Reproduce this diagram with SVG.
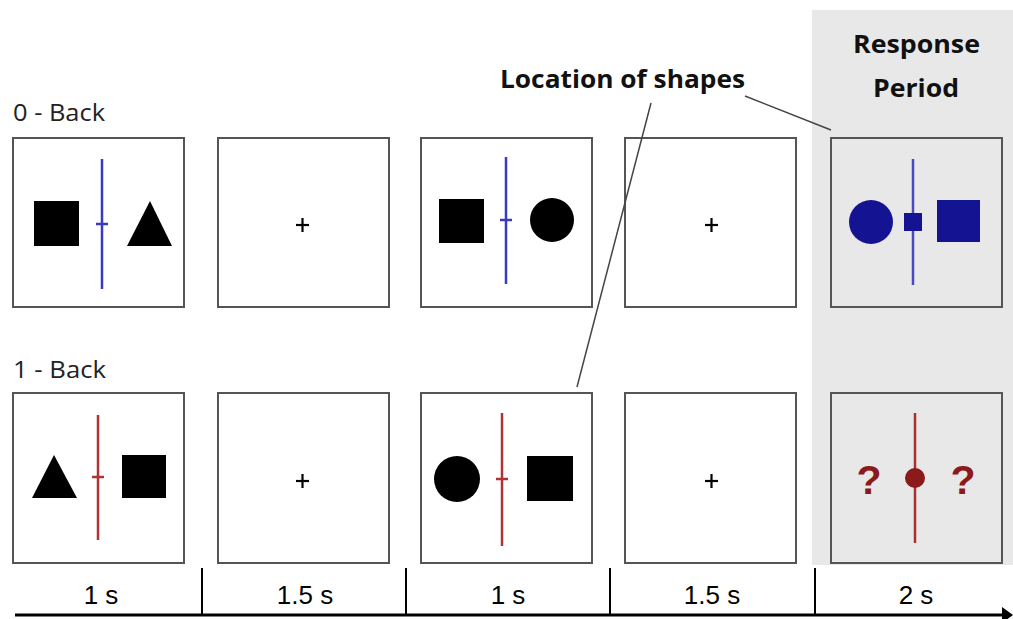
<svg xmlns="http://www.w3.org/2000/svg" width="1013" height="619" viewBox="0 0 1013 619">
<defs>
<style>
.panel{fill:#fff;stroke:#555;stroke-width:2}
.rp{fill:#e8e8e8;stroke:#555;stroke-width:2}
.blk{fill:#000}
.bl{stroke:#3a3ac0;stroke-width:2.5}
.rd{stroke:#b03232;stroke-width:2.5}
.plus{stroke:#000;stroke-width:2.2}
.lbl{font-family:"Open Sans","Liberation Sans",sans-serif;font-size:24px;fill:#222}
.hdr{font-family:"Open Sans","Liberation Sans",sans-serif;font-size:25px;font-weight:bold;fill:#111}
.tm{font-family:"Liberation Sans",Arial,sans-serif;font-size:26px;fill:#000;text-anchor:middle}
.lead{stroke:#444;stroke-width:1.5;fill:none}
.q{font-family:"Liberation Sans",Arial,sans-serif;font-size:41px;font-weight:bold;fill:#8b1a1a;text-anchor:middle}
</style>
</defs>
<rect width="1013" height="619" fill="#fff"/>
<rect x="812" y="10" width="201" height="555" fill="#e8e8e8"/>

<text class="lbl" x="13" y="121" textLength="92" lengthAdjust="spacingAndGlyphs">0 - Back</text>
<text class="lbl" x="13" y="378" textLength="93" lengthAdjust="spacingAndGlyphs">1 - Back</text>
<text class="hdr" x="500" y="88" textLength="245" lengthAdjust="spacingAndGlyphs">Location of shapes</text>
<text class="hdr" x="853" y="53" textLength="127" lengthAdjust="spacingAndGlyphs">Response</text>
<text class="hdr" x="873" y="97" textLength="86" lengthAdjust="spacingAndGlyphs">Period</text>

<!-- top row -->
<g id="t1">
<rect class="panel" x="13" y="138" width="171" height="169"/>
<line class="bl" x1="102" y1="159" x2="102" y2="289"/>
<line class="bl" x1="96" y1="224" x2="108" y2="224"/>
<rect class="blk" x="34" y="201" width="45" height="45"/>
<polygon class="blk" points="150,201 172,246 127,246"/>
</g>
<g id="t2">
<rect class="panel" x="218" y="138" width="171" height="169"/>
<line class="plus" x1="296" y1="225" x2="309" y2="225"/>
<line class="plus" x1="302.5" y1="218" x2="302.5" y2="232"/>
</g>
<g id="t3">
<rect class="panel" x="421" y="138" width="171" height="169"/>
<line class="bl" x1="506" y1="157" x2="506" y2="284"/>
<line class="bl" x1="500" y1="220" x2="512" y2="220"/>
<rect class="blk" x="439" y="199" width="45" height="44"/>
<circle class="blk" cx="552" cy="220" r="22"/>
</g>
<g id="t4">
<rect class="panel" x="625" y="138" width="171" height="169"/>
<line class="plus" x1="705" y1="225" x2="718" y2="225"/>
<line class="plus" x1="711.5" y1="218" x2="711.5" y2="232"/>
</g>
<g id="t5">
<rect class="rp" x="831" y="138" width="171" height="169"/>
<line x1="913" y1="159" x2="913" y2="285" stroke="#4a4ac0" stroke-width="2.5"/>
<circle cx="871" cy="222" r="22" fill="#141493"/>
<rect x="904" y="213" width="18" height="18" fill="#141493"/>
<rect x="937" y="200" width="43" height="42" fill="#141493"/>
</g>

<!-- bottom row -->
<g id="b1">
<rect class="panel" x="13" y="393" width="171" height="170"/>
<line class="rd" x1="98" y1="415" x2="98" y2="540"/>
<line class="rd" x1="92" y1="477" x2="104" y2="477"/>
<polygon class="blk" points="54,455 77,498 32,498"/>
<rect class="blk" x="122" y="455" width="44" height="43"/>
</g>
<g id="b2">
<rect class="panel" x="218" y="393" width="171" height="170"/>
<line class="plus" x1="296" y1="481" x2="309" y2="481"/>
<line class="plus" x1="302.5" y1="474" x2="302.5" y2="488"/>
</g>
<g id="b3">
<rect class="panel" x="421" y="393" width="171" height="170"/>
<line class="rd" x1="502" y1="413" x2="502" y2="546"/>
<line class="rd" x1="496" y1="479" x2="508" y2="479"/>
<circle class="blk" cx="457" cy="479" r="23"/>
<rect class="blk" x="527" y="456" width="46" height="45"/>
</g>
<g id="b4">
<rect class="panel" x="625" y="393" width="171" height="170"/>
<line class="plus" x1="705" y1="481" x2="718" y2="481"/>
<line class="plus" x1="711.5" y1="474" x2="711.5" y2="488"/>
</g>
<g id="b5">
<rect class="rp" x="831" y="393" width="171" height="170"/>
<line x1="915" y1="413" x2="915" y2="543" stroke="#a83030" stroke-width="2.5"/>
<circle cx="915" cy="478" r="10" fill="#8b1a1a"/>
<text class="q" x="869" y="494">?</text>
<text class="q" x="963" y="494">?</text>
</g>

<g id="connectors">
<line class="lead" x1="745" y1="96" x2="831" y2="130"/>
<line class="lead" x1="651" y1="103" x2="577" y2="387"/>
</g>

<g id="timeline">
<line x1="15" y1="615" x2="1004" y2="615" stroke="#000" stroke-width="3"/>
<polygon points="1002,607 1013,615 1002,623" fill="#000"/>
<line x1="202" y1="568" x2="202" y2="615" stroke="#000" stroke-width="2"/>
<line x1="406" y1="568" x2="406" y2="615" stroke="#000" stroke-width="2"/>
<line x1="610" y1="568" x2="610" y2="615" stroke="#000" stroke-width="2"/>
<line x1="815" y1="568" x2="815" y2="615" stroke="#000" stroke-width="2"/>
<text class="tm" x="101" y="604">1 s</text>
<text class="tm" x="305" y="604">1.5 s</text>
<text class="tm" x="508" y="604">1 s</text>
<text class="tm" x="712" y="604">1.5 s</text>
<text class="tm" x="916" y="604">2 s</text>
</g>
</svg>
